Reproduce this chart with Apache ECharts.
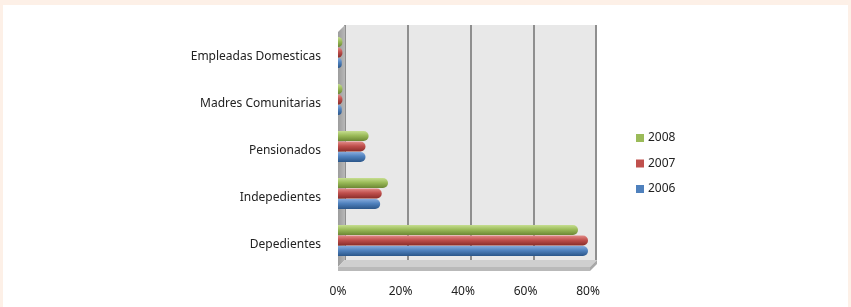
<!DOCTYPE html>
<html>
<head>
<meta charset="utf-8">
<script src="https://cdn.jsdelivr.net/npm/echarts@6/dist/echarts.min.js"></script>
<style>
  html, body { margin: 0; padding: 0; background: #fdf0e7; }
  .chart-wrapper { position: absolute; left: 3px; top: 5px; right: 3px; bottom: 0; background: #fff; }
  #myChart { position: absolute; left: -3px; top: -5px; width: 851px; height: 307px; }
</style>
</head>
<body>
<div class="chart-wrapper">
  <div id="myChart"></div>
</div>
<script>
// data (percent)
const categories = ['Depedientes', 'Indepedientes', 'Pensionados', 'Madres Comunitarias', 'Empleadas Domesticas']
const legendOrder = ['2008', '2007', '2006']
const values2006 = [80, 13.5, 8.8, 1.2, 1.2]
const values2007 = [80, 14, 8.8, 1.4, 1.4]
const values2008 = [76.8, 16, 9.8, 1.4, 1.4]
const valueTicks = [0, 20, 40, 60, 80]

const colors = {
  '2006': ['#86abdd', '#4f81bd', '#2b5689'],
  '2007': ['#e38c89', '#c0504d', '#892c29'],
  '2008': ['#c6de90', '#9bbb59', '#6b8733']
}
const fontFamily = 'Noto Sans'

function cylinder(c) {
  return new echarts.graphic.LinearGradient(0, 0, 0, 1, [
    { offset: 0, color: c[0] },
    { offset: 0.45, color: c[1] },
    { offset: 1, color: c[2] }
  ])
}

function makeSeries(name, data) {
  return {
    name: name,
    type: 'bar',
    data: data,
    barWidth: 10,
    barGap: '5%',
    xAxisIndex: 0,
    yAxisIndex: 0,
    itemStyle: {
      color: cylinder(colors[name]),
      borderRadius: [0, 5, 5, 0]
    }
  }
}

const chart = echarts.init(document.getElementById('myChart'))
chart.setOption({
  animation: false,
  textStyle: { fontFamily: fontFamily },
  grid: [
    { left: 338, right: 263, top: 29, bottom: 43 },
    { left: 345, right: 255, top: 25, bottom: 47, show: true, backgroundColor: '#e8e8e8', borderWidth: 0, z: 0 }
  ],
  graphic: [
    // side wall
    { type: 'polygon', z: 1, shape: { points: [[338, 32], [345, 25], [345, 260], [338, 267]] },
      style: { fill: new echarts.graphic.LinearGradient(0, 0, 1, 0, [{ offset: 0, color: '#9c9c9c' }, { offset: 1, color: '#b8b8b8' }]) } },
    // floor
    { type: 'polygon', z: 1, shape: { points: [[338, 267], [345, 260], [597, 260], [590, 267]] },
      style: { fill: '#cfcfcf' } },
    { type: 'polygon', z: 1, shape: { points: [[338, 267], [590, 267], [590, 271], [338, 271]] },
      style: { fill: '#b9b9b9' } },
    { type: 'polygon', z: 1, shape: { points: [[590, 267], [597, 260], [597, 264], [590, 271]] },
      style: { fill: '#a8a8a8' } }
  ],
  legend: {
    orient: 'vertical',
    left: 631,
    top: 127,
    itemWidth: 8,
    itemHeight: 8,
    itemGap: 13.5,
    icon: 'rect',
    data: legendOrder.map(function (y) {
      return { name: y, itemStyle: { color: colors[y][1] } }
    }),
    textStyle: { fontFamily: fontFamily, fontSize: 12, color: '#222', padding: [0, 0, 0, -1] }
  },
  xAxis: [
    {
      gridIndex: 0,
      type: 'value',
      min: valueTicks[0],
      max: valueTicks[valueTicks.length - 1],
      interval: 20,
      axisLine: { show: false },
      axisTick: { show: false },
      splitLine: { show: false },
      axisLabel: { margin: 22, fontSize: 12, color: '#222', formatter: '{value}%' }
    },
    {
      gridIndex: 1,
      type: 'value',
      min: valueTicks[0],
      max: valueTicks[valueTicks.length - 1],
      interval: 20,
      axisLine: { show: false },
      axisTick: { show: false },
      axisLabel: { show: false },
      splitLine: { show: true, lineStyle: { color: '#8f8f8f', width: 2 } }
    }
  ],
  yAxis: [
    {
      gridIndex: 0,
      type: 'category',
      data: categories,
      axisLine: { show: false },
      axisTick: { show: false },
      axisLabel: { margin: 17, fontSize: 12, color: '#222', verticalAlign: 'top', lineHeight: 8 }
    },
    {
      gridIndex: 1,
      type: 'category',
      data: categories,
      show: false
    }
  ],
  series: [
    makeSeries('2008', values2008),
    makeSeries('2007', values2007),
    makeSeries('2006', values2006)
  ]
})
</script>
</body>
</html>
